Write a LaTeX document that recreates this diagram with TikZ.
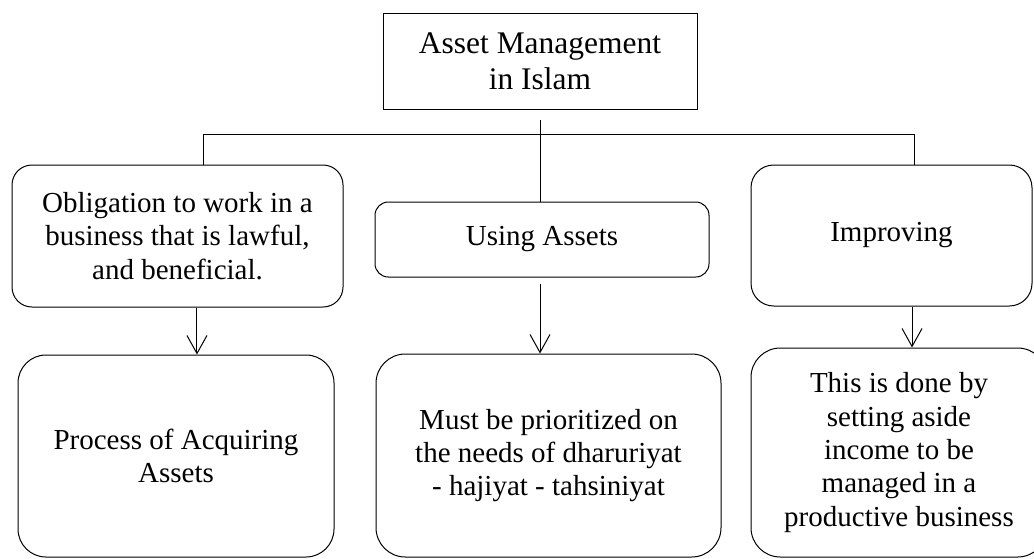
\documentclass[tikz,border=0pt]{standalone}
\usepackage{fontspec}
\setmainfont{Liberation Serif}
\usetikzlibrary{arrows.meta}

\tikzstyle{block} = [draw, rectangle, text centered, align=center, inner sep=0pt, line width=0.75pt, font=\fontsize{21.75}{25}\selectfont]
\tikzstyle{block2} = [draw, rectangle, text centered, align=center, inner sep=0pt, line width=0.75pt, font=\fontsize{23.6}{27}\selectfont]
\tikzstyle{line} = [draw, -{Straight Barb[length=13.5pt,width=15pt]}, line width=0.75pt]
\tikzstyle{line1} = [draw, line width=0.75pt]

\begin{document}
\begin{tikzpicture}[x=0.75pt, y=-0.75pt]
    \useasboundingbox (0,0) rectangle (1034,558);
    % Place nodes
    \node [block2, minimum width=235.5pt, minimum height=72pt] (management) at (540,61) {Asset Management\\in Islam};
    \node [block, rounded corners=15pt, minimum width=248.25pt, minimum height=106.5pt] (obligation) at (177.5,236) {Obligation to work in a\\business that is lawful,\\and beneficial.};
    \node [block, rounded corners=10pt, minimum width=250.5pt, minimum height=56.25pt] (using) at (542,239.5) {Using Assets};
    \node [block, rounded corners=17pt, minimum width=210.75pt, minimum height=105.75pt] (improving) at (891.5,235.5) {Improving};
    \node [block, rounded corners=21pt, minimum width=237pt, minimum height=151.5pt] (acquiring) at (176,456) {Process of Acquiring\\Assets};
    \node [block, rounded corners=22pt, minimum width=258.75pt, minimum height=152.25pt] (prioritized) at (548.5,455.5) {Must be prioritized on\\the needs of dharuriyat\\- hajiyat - tahsiniyat};
    \node [block, rounded corners=22pt, minimum width=222pt, minimum height=156.75pt] (income) at (899,452.5) {This is done by\\setting aside\\income to be\\managed in a\\productive business};
    % Draw edges
    \coordinate (bar_l) at (203,134);
    \coordinate (bar_r) at (914,134);
    \coordinate (mgmt_foot) at (540,120);
    \draw [line1] (bar_l |- obligation.north) -- (bar_l) -- (bar_r) -- (bar_r |- improving.north);
    \draw [line1] (mgmt_foot) -- (mgmt_foot |- using.north);
    \draw [line] ([xshift=14.6pt]obligation.south) -- ([xshift=14.6pt]obligation.south |- acquiring.north);
    \draw [line, shorten <=4.5pt] ([xshift=-1.5pt]using.south) -- ([xshift=-1.5pt]using.south |- prioritized.north);
    \draw [line] ([xshift=15.4pt]improving.south) -- ([xshift=15.4pt]improving.south |- income.north);
\end{tikzpicture}
\end{document}
